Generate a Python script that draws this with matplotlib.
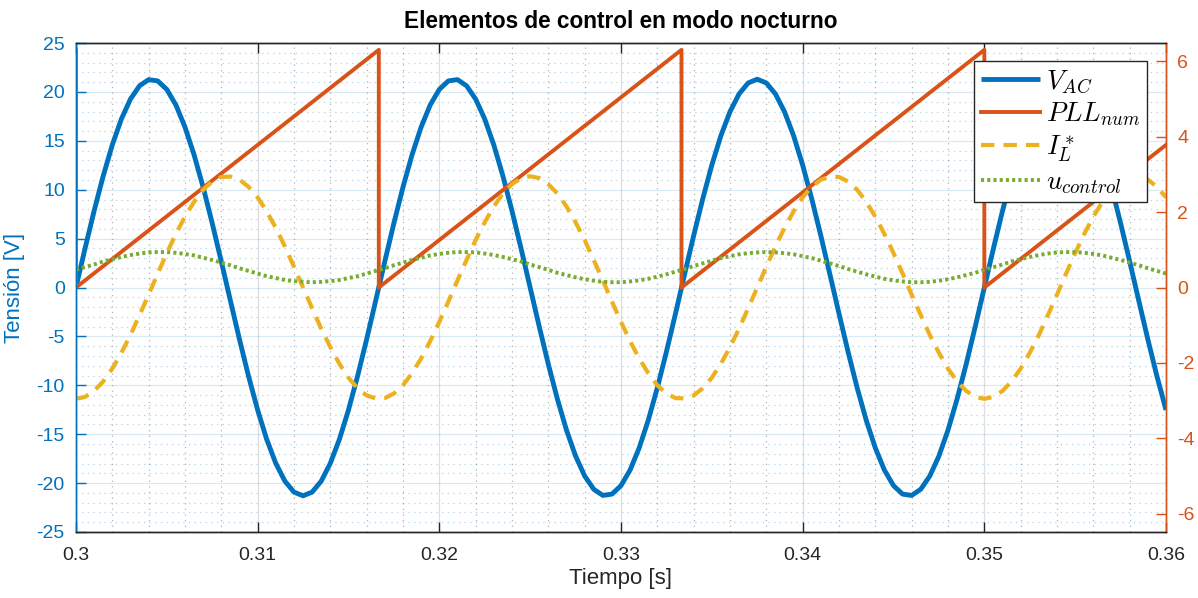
import numpy as np
import matplotlib
matplotlib.use("Agg")
import matplotlib.pyplot as plt
from matplotlib.ticker import MultipleLocator, FixedLocator

plt.rcParams['font.family'] = ['Liberation Sans', 'DejaVu Sans']
plt.rcParams['mathtext.fontset'] = 'cm'
plt.rcParams['axes.unicode_minus'] = False

# Sample instants (0.5 ms step over 0.30 s .. 0.36 s)
t = np.linspace(0.30, 0.36, 121)

# Grid voltage [V] (left axis)
v_ac = [
    0.0, 3.99, 7.84, 11.41, 14.58, 17.23, 19.27, 20.63, 21.26, 21.13,
    20.26, 18.67, 16.41, 13.58, 10.26, 6.58, 2.67, -1.34, -5.30, -9.07,
    -12.52, -15.53, -17.98, -19.80, -20.92, -21.30, -20.92, -19.80, -17.98, -15.53,
    -12.52, -9.07, -5.30, -1.34, 2.67, 6.58, 10.26, 13.58, 16.41, 18.67,
    20.26, 21.13, 21.26, 20.63, 19.27, 17.23, 14.58, 11.41, 7.84, 3.99,
    0.0, -3.99, -7.84, -11.41, -14.58, -17.23, -19.27, -20.63, -21.26, -21.13,
    -20.26, -18.67, -16.41, -13.58, -10.26, -6.58, -2.67, 1.34, 5.30, 9.07,
    12.52, 15.53, 17.98, 19.80, 20.92, 21.30, 20.92, 19.80, 17.98, 15.53,
    12.52, 9.07, 5.30, 1.34, -2.67, -6.58, -10.26, -13.58, -16.41, -18.67,
    -20.26, -21.13, -21.26, -20.63, -19.27, -17.23, -14.58, -11.41, -7.84, -3.99,
    0.0, 3.99, 7.84, 11.41, 14.58, 17.23, 19.27, 20.63, 21.26, 21.13,
    20.26, 18.67, 16.41, 13.58, 10.26, 6.58, 2.67, -1.34, -5.30, -9.07,
    -12.52,
]

# Current reference (right axis)
i_ref = [
    -2.95, -2.90, -2.74, -2.49, -2.15, -1.73, -1.26, -0.73, -0.19, 0.37,
    0.91, 1.42, 1.88, 2.27, 2.59, 2.81, 2.93, 2.94, 2.86, 2.67,
    2.39, 2.02, 1.58, 1.09, 0.55, 0.0, -0.55, -1.09, -1.58, -2.02,
    -2.39, -2.67, -2.86, -2.94, -2.93, -2.81, -2.59, -2.27, -1.88, -1.42,
    -0.91, -0.37, 0.19, 0.73, 1.26, 1.73, 2.15, 2.49, 2.74, 2.90,
    2.95, 2.90, 2.74, 2.49, 2.15, 1.73, 1.26, 0.73, 0.19, -0.37,
    -0.91, -1.42, -1.88, -2.27, -2.59, -2.81, -2.93, -2.94, -2.86, -2.67,
    -2.39, -2.02, -1.58, -1.09, -0.55, 0.0, 0.55, 1.09, 1.58, 2.02,
    2.39, 2.67, 2.86, 2.94, 2.93, 2.81, 2.59, 2.27, 1.88, 1.42,
    0.91, 0.37, -0.19, -0.73, -1.26, -1.73, -2.15, -2.49, -2.74, -2.90,
    -2.95, -2.90, -2.74, -2.49, -2.15, -1.73, -1.26, -0.73, -0.19, 0.37,
    0.91, 1.42, 1.88, 2.27, 2.59, 2.81, 2.93, 2.94, 2.86, 2.67,
    2.39,
]

# Control signal (right axis)
u_ctrl = [
    0.47, 0.54, 0.61, 0.69, 0.75, 0.81, 0.86, 0.90, 0.93, 0.94,
    0.94, 0.92, 0.89, 0.85, 0.79, 0.73, 0.66, 0.59, 0.51, 0.44,
    0.37, 0.30, 0.25, 0.20, 0.17, 0.15, 0.14, 0.15, 0.17, 0.20,
    0.25, 0.30, 0.37, 0.44, 0.51, 0.59, 0.66, 0.73, 0.79, 0.85,
    0.89, 0.92, 0.94, 0.94, 0.93, 0.90, 0.86, 0.81, 0.75, 0.69,
    0.61, 0.54, 0.47, 0.39, 0.33, 0.27, 0.22, 0.18, 0.15, 0.14,
    0.14, 0.16, 0.19, 0.23, 0.29, 0.35, 0.42, 0.49, 0.57, 0.64,
    0.71, 0.78, 0.83, 0.88, 0.91, 0.93, 0.94, 0.93, 0.91, 0.88,
    0.83, 0.78, 0.71, 0.64, 0.57, 0.49, 0.42, 0.35, 0.29, 0.23,
    0.19, 0.16, 0.14, 0.14, 0.15, 0.18, 0.22, 0.27, 0.33, 0.39,
    0.47, 0.54, 0.61, 0.69, 0.75, 0.81, 0.86, 0.90, 0.93, 0.94,
    0.94, 0.92, 0.89, 0.85, 0.79, 0.73, 0.66, 0.59, 0.51, 0.44,
    0.37,
]

# PLL phase angle [rad] (right axis): ramps with resets
pll_t = [0.30, 0.30, 0.31667, 0.31667, 0.33333, 0.33333, 0.35, 0.35, 0.36]
pll_val = [6.30, 0.0, 6.30, 0.0, 6.30, 0.0, 6.30, 0.0, 3.78]

x_ticks = [0.30, 0.31, 0.32, 0.33, 0.34, 0.35, 0.36]
x_tick_labels = ['0.3', '0.31', '0.32', '0.33', '0.34', '0.35', '0.36']
left_ticks = [-25, -20, -15, -10, -5, 0, 5, 10, 15, 20, 25]
right_ticks = [-6, -4, -2, 0, 2, 4, 6]

BLUE = '#0072BD'
ORANGE = '#D95319'
YELLOW = '#EDB120'
GREEN = '#77AC30'
DARK = '#262626'

fig = plt.figure(figsize=(11.98, 5.98), dpi=100)
ax = fig.add_axes([0.0634, 0.1104, 0.9099, 0.8176])
ax2 = ax.twinx()

ln_v, = ax.plot(t, v_ac, color=BLUE, lw=3.5, solid_joinstyle='round',
                solid_capstyle='butt')
ln_pll, = ax2.plot(pll_t, pll_val, color=ORANGE, lw=2.8)
ln_i, = ax2.plot(t, i_ref, color=YELLOW, lw=3.0, dashes=(3.2, 2.2),
                 dash_joinstyle='round')
ln_u, = ax2.plot(t, u_ctrl, color=GREEN, lw=2.8, dashes=(0.8, 0.8))

ax.set_xlim(0.30, 0.36)
ax.set_ylim(-25, 25)
ax2.set_ylim(-6.48, 6.48)

ax.xaxis.set_major_locator(FixedLocator(x_ticks))
ax.set_xticklabels(x_tick_labels)
ax.yaxis.set_major_locator(FixedLocator(left_ticks))
ax2.yaxis.set_major_locator(FixedLocator(right_ticks))
ax.xaxis.set_minor_locator(MultipleLocator(0.002))
ax.yaxis.set_minor_locator(MultipleLocator(1))

ax.grid(which='major', axis='x', color=DARK, alpha=0.15, lw=0.9)
ax.grid(which='major', axis='y', color=BLUE, alpha=0.15, lw=0.9)
ax.grid(which='minor', axis='x', color=DARK, alpha=0.35, lw=0.9, linestyle=(0, (1, 3.5)))
ax.grid(which='minor', axis='y', color=BLUE, alpha=0.3, lw=0.9, linestyle=(0, (1, 3.5)))
ax.set_axisbelow(True)

ax.tick_params(which='minor', length=0)
ax.tick_params(axis='x', which='major', direction='in', length=7, width=1,
               color=DARK, labelcolor=DARK, labelsize=14, top=True, pad=11)
ax.tick_params(axis='y', which='major', direction='in', length=7, width=1,
               color=BLUE, labelcolor=BLUE, labelsize=14, pad=8)
ax2.tick_params(axis='y', which='major', direction='in', length=7, width=1,
                color=ORANGE, labelcolor=ORANGE, labelsize=14, pad=8)

for a in (ax, ax2):
    a.spines['top'].set_color(DARK)
    a.spines['bottom'].set_color(DARK)
    a.spines['left'].set_color(BLUE)
    a.spines['right'].set_color(ORANGE)
    for s in a.spines.values():
        s.set_linewidth(1.0)

ax.set_xlabel('Tiempo [s]', fontsize=16, color=DARK, labelpad=3)
ax.set_ylabel('Tensión [V]', fontsize=16, color=BLUE, labelpad=8)
ax.set_title('Elementos de control en modo nocturno', fontsize=16.3,
             fontweight='bold', color='black', pad=11)

leg = ax2.legend([ln_v, ln_pll, ln_i, ln_u],
                 [r'$V_{AC}$', r'$PLL_{num}$', r'$I_L^*$', r'$u_{control}$'],
                 loc='upper right', bbox_to_anchor=(0.9826, 0.963),
                 bbox_transform=ax.transAxes, borderaxespad=0,
                 fontsize=19.5, handlelength=2.2, handletextpad=0.2,
                 labelspacing=0.2, borderpad=0.25, fancybox=False,
                 framealpha=1, edgecolor=DARK)
leg.get_frame().set_linewidth(1.0)

fig.savefig('out.png', dpi=100, facecolor='white')
